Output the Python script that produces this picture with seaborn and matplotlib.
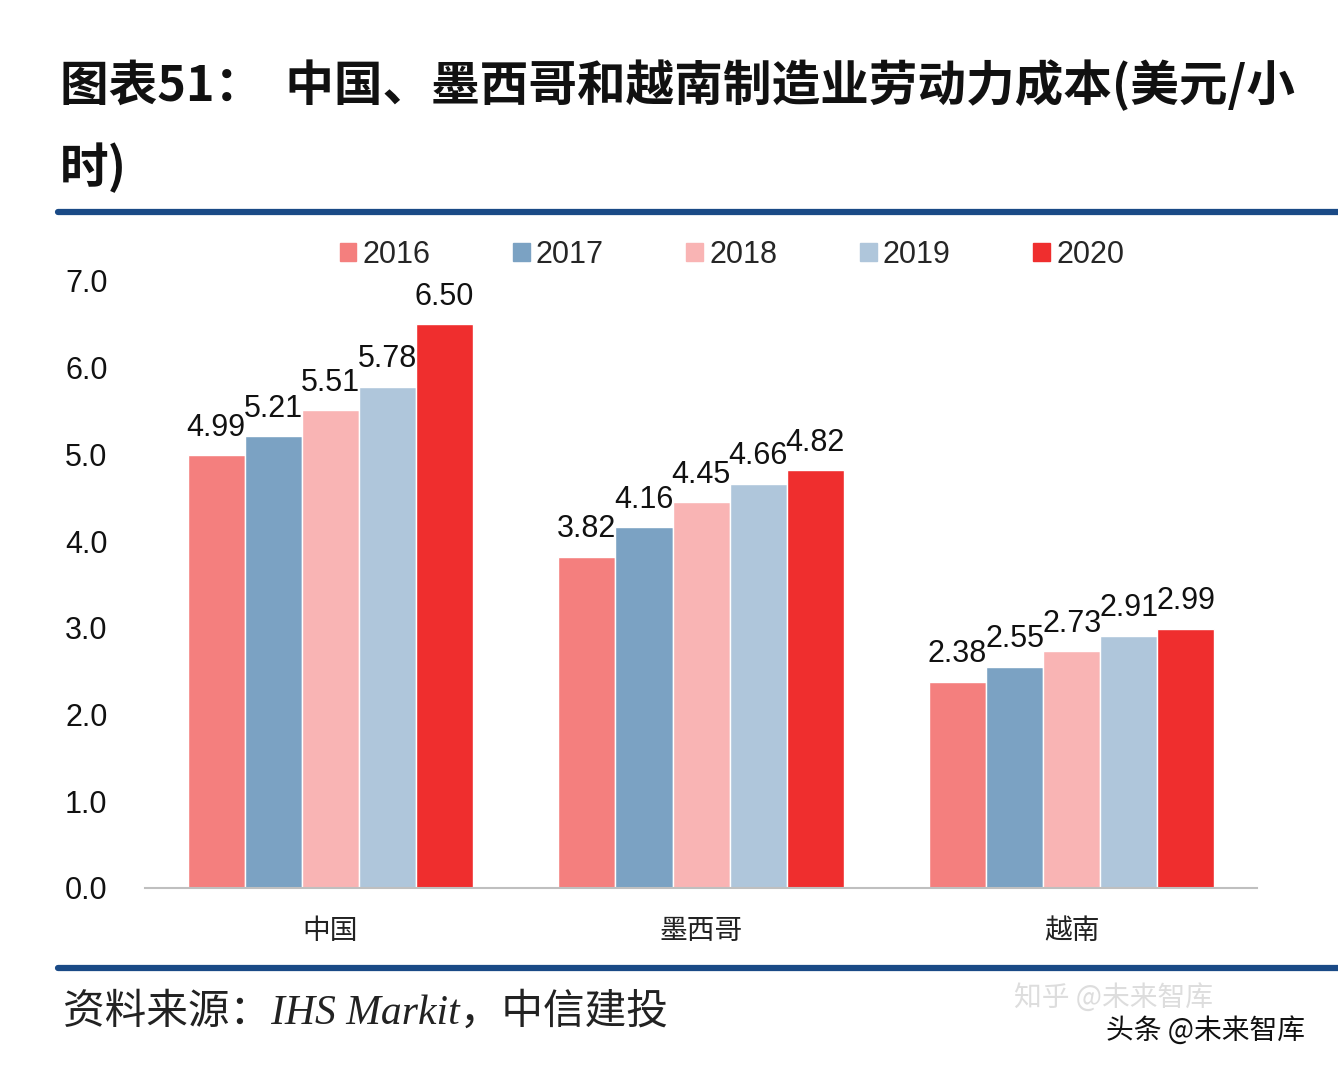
import matplotlib
matplotlib.use("Agg")
import matplotlib.pyplot as plt
import seaborn as sns
import pandas as pd
from matplotlib.lines import Line2D

countries = ["中国", "墨西哥", "越南"]
years = ["2016", "2017", "2018", "2019", "2020"]
v2016 = [4.99, 3.82, 2.38]
v2017 = [5.21, 4.16, 2.55]
v2018 = [5.51, 4.45, 2.73]
v2019 = [5.78, 4.66, 2.91]
v2020 = [6.50, 4.82, 2.99]
yticks = [0.0, 1.0, 2.0, 3.0, 4.0, 5.0, 6.0, 7.0]
colors = ["#F47F7E", "#7BA2C3", "#F9B4B4", "#AFC6DB", "#EF2E2E"]

title_line1 = "图表51：  中国、墨西哥和越南制造业劳动力成本(美元/小"
title_line2 = "时)"
source_text = "资料来源：IHS Markit，中信建投"

series = [v2016, v2017, v2018, v2019, v2020]
rows = []
for y, vals in zip(years, series):
    for c, v in zip(countries, vals):
        rows.append({"country": c, "year": y, "value": v})
df = pd.DataFrame(rows)

sns.set_theme(style="white")
plt.rcParams["font.family"] = ["Liberation Sans", "Noto Sans CJK SC", "DejaVu Sans"]

fig = plt.figure(figsize=(13.38, 10.70), dpi=100)
ax = fig.add_axes([0.1084, 0.1701, 0.8311, 0.5673])

sns.barplot(data=df, x="country", y="value", hue="year", order=countries,
            hue_order=years, palette=colors, width=0.77, ax=ax,
            saturation=1, errorbar=None, legend=False)

for cont in ax.containers:
    ax.bar_label(cont, fmt="%.2f", padding=9, fontsize=22, color="#111111")

ax.set_ylim(0, 7)
ax.set_xlim(-0.5, 2.5)
ax.set_yticks(yticks)
ax.set_yticklabels([f"{t:.1f}" for t in yticks], fontsize=22, color="#111111")
ax.set_xlabel("")
ax.set_ylabel("")
ax.tick_params(axis="y", length=0, pad=27)
ax.tick_params(axis="x", length=0, pad=20)
for lbl in ax.get_xticklabels():
    lbl.set_fontfamily(["Noto Sans CJK SC"])
    lbl.set_fontsize(20)
    lbl.set_color("#222222")
for s in ["top", "right", "left"]:
    ax.spines[s].set_visible(False)
ax.spines["bottom"].set_color("#BFBFBF")
ax.spines["bottom"].set_linewidth(1.5)

handles = [plt.Rectangle((0, 0), 1, 1, color=c) for c in colors]
fig.legend(handles, years, loc="center", bbox_to_anchor=(0.547, 0.762), ncol=5,
           frameon=False, fontsize=22, handlelength=0.55, handleheight=0.55,
           handletextpad=0.2, columnspacing=2.7)

# title
fig.text(0.045, 0.920, title_line1, fontsize=35, fontweight="bold",
         family=["Noto Sans CJK SC"], va="center", ha="left", color="#111111")
fig.text(0.045, 0.843, title_line2, fontsize=35, fontweight="bold",
         family=["Noto Sans CJK SC"], va="center", ha="left", color="#111111")

# rules
fig.add_artist(Line2D([0.043, 1.0], [0.802, 0.802], color="#1A4A86", lw=4.5,
                      transform=fig.transFigure))
fig.add_artist(Line2D([0.043, 1.0], [0.095, 0.095], color="#1A4A86", lw=4.5,
                      transform=fig.transFigure))

# source
fig.text(0.047, 0.053, source_text, fontsize=30, style="italic",
         family=["Liberation Serif", "Noto Sans CJK SC"], va="center",
         ha="left", color="#222222")

# watermark
fig.text(0.758, 0.067, "知乎 @未来智库", fontsize=20,
         family=["Noto Sans CJK SC"], va="center", ha="left", color="#DDDDDD")
fig.text(0.975, 0.037, "头条 @未来智库", fontsize=20,
         family=["Noto Sans CJK SC"], va="center", ha="right", color="#111111")

fig.savefig("out.png", dpi=100, facecolor="white")
